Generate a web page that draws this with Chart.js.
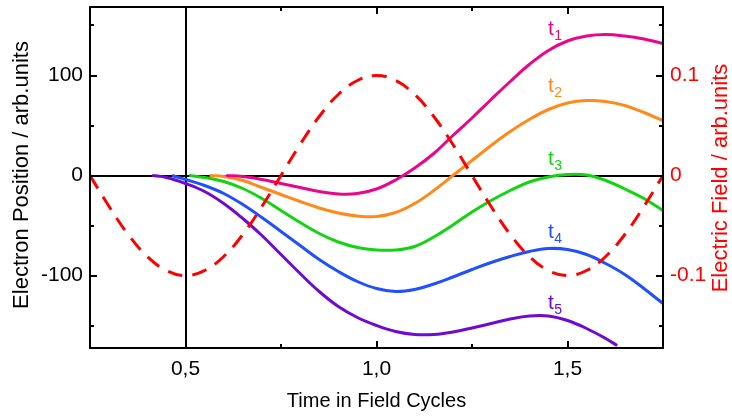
<!DOCTYPE html>
<html>
<head>
<meta charset="utf-8">
<script src="https://cdn.jsdelivr.net/npm/chart.js@4/dist/chart.umd.min.js"></script>
<style>
html,body{margin:0;padding:0;background:#fff;}
#c{display:block;}
</style>
</head>
<body>
<canvas id="c" width="732" height="417"></canvas>
<script>
// ---- data ----
const fieldX = [0.25,0.30,0.35,0.40,0.45,0.50,0.55,0.60,0.65,0.70,0.75,0.80,0.85,0.90,0.95,1.00,1.05,1.10,1.15,1.20,1.25,1.30,1.35,1.40,1.45,1.50,1.55,1.60,1.65,1.70,1.75];
const fieldY = [0,-0.031,-0.059,-0.081,-0.095,-0.100,-0.095,-0.081,-0.059,-0.031,0,0.031,0.059,0.081,0.095,0.100,0.095,0.081,0.059,0.031,0,-0.031,-0.059,-0.081,-0.095,-0.100,-0.095,-0.081,-0.059,-0.031,0];

const t1X = [0.607,0.65,0.70,0.75,0.80,0.85,0.90,0.95,1.00,1.05,1.10,1.15,1.20,1.25,1.30,1.35,1.40,1.45,1.50,1.55,1.60,1.65,1.70,1.75];
const t1Y = [0,-1,-4,-8,-12,-16,-18.5,-18,-13.5,-4.5,7.5,22,40,57.5,76,94,111,125,134.5,139.5,141,139.5,136.5,132];

const t2X = [0.563,0.60,0.65,0.70,0.75,0.80,0.85,0.90,0.95,1.00,1.05,1.10,1.15,1.20,1.25,1.30,1.35,1.40,1.45,1.50,1.55,1.60,1.65,1.70,1.75];
const t2Y = [0,-1,-5,-12,-19,-26,-32.5,-37.5,-40.5,-41,-37,-28,-15,0,15,30,44,56,66,72.5,75,74,70,63,55];

const t3X = [0.51,0.55,0.60,0.65,0.70,0.75,0.80,0.85,0.90,0.95,1.00,1.05,1.10,1.15,1.20,1.25,1.30,1.35,1.40,1.45,1.50,1.55,1.60,1.65,1.70,1.75];
const t3Y = [0,-2,-6,-13,-23,-35,-47,-58,-66.5,-72,-74.5,-74.5,-71,-61.5,-49.5,-36.5,-25,-15,-6.5,-1.5,1,0.5,-5,-13.5,-23,-35];

const t4X = [0.465,0.50,0.55,0.60,0.65,0.70,0.75,0.80,0.85,0.90,0.95,1.00,1.05,1.10,1.15,1.20,1.25,1.30,1.35,1.40,1.45,1.50,1.55,1.60,1.65,1.70,1.75];
const t4Y = [0,-4,-10,-18,-29,-42,-56,-70,-84,-96,-106,-113,-116,-114,-108.5,-101.5,-94,-87,-81,-76,-73,-74,-79,-88,-99,-113,-128];

const t5X = [0.413,0.45,0.50,0.55,0.60,0.65,0.70,0.75,0.80,0.85,0.90,0.95,1.00,1.05,1.10,1.15,1.20,1.25,1.30,1.35,1.40,1.45,1.50,1.55,1.60,1.63];
const t5Y = [0,-2,-8,-16,-28,-43,-60,-79,-98,-116,-131,-142,-150,-156,-159,-159,-156.5,-152.5,-148,-143.5,-140.5,-140.5,-145,-153,-163,-170];

const curveNames = ['1','2','3','4','5'];
const xTickValues = [0.5,0.75,1.0,1.25,1.5];
const xTickLabels = {0.5:'0,5',1:'1,0',1.5:'1,5'};
const yTickValues = [-150,-100,-50,0,50,100,150];
const yTickLabels = {'-100':'-100','0':'0','100':'100'};
const y1TickValues = [-0.15,-0.1,-0.05,0,0.05,0.1,0.15];
const y1TickLabels = {'-0.1':'-0.1','0':'0','0.1':'0.1'};

// ---- styling ----
const FONT = '"Liberation Sans", Arial, sans-serif';
const colors = ['#e8068c','#ff8a1a','#12d412','#2050ff','#6f0ad2'];
const fieldColor = '#ff0000';

function pts(xs, ys){ return xs.map((x,i)=>({x:x, y:ys[i]})); }

const curves = [[t1X,t1Y],[t2X,t2Y],[t3X,t3Y],[t4X,t4Y],[t5X,t5Y]];
const datasets = [{
  label:'field', data: pts(fieldX, fieldY), yAxisID:'y1',
  borderColor: fieldColor, borderWidth: 3, borderDash:[15,10],
  pointRadius:0, tension:0.4, order:0, fill:false
}];
curves.forEach((c,i)=>{
  datasets.push({
    label:'t'+curveNames[i], data: pts(c[0], c[1]), yAxisID:'y',
    borderColor: colors[i], borderWidth: 3, pointRadius:0,
    tension:0.4, order:1, fill:false
  });
});

// label anchors (data coords) for t-labels
const labelPos = {x:1.449, y:[140.5, 83.5, 10.5, -62.5, -133.5]};

function noPad(s){ s.paddingTop = 0; s.paddingBottom = 0; s.paddingLeft = 0; s.paddingRight = 0; }

const decor = {
  id:'decor',
  beforeDatasetsDraw(chart){
    const {ctx, chartArea:a, scales} = chart;
    ctx.save();
    ctx.strokeStyle = '#000'; ctx.lineWidth = 2;
    const y0 = Math.round(scales.y.getPixelForValue(0));
    const x05 = Math.round(scales.x.getPixelForValue(0.5));
    ctx.beginPath();
    ctx.moveTo(a.left, y0); ctx.lineTo(a.right, y0);
    ctx.moveTo(x05, a.top); ctx.lineTo(x05, a.bottom);
    ctx.stroke();
    ctx.restore();
  },
  afterDatasetsDraw(chart){
    const {ctx, chartArea:a, scales} = chart;
    ctx.save();
    ctx.strokeStyle = '#000'; ctx.lineWidth = 2;
    ctx.strokeRect(a.left, a.top, a.right-a.left, a.bottom-a.top);
    ctx.beginPath();
    xTickValues.forEach(v=>{
      const px = Math.round(scales.x.getPixelForValue(v));
      const L = xTickLabels[v] ? 7 : 4;
      ctx.moveTo(px, a.bottom); ctx.lineTo(px, a.bottom-L);
      ctx.moveTo(px, a.top); ctx.lineTo(px, a.top+L);
    });
    yTickValues.forEach(v=>{
      const py = Math.round(scales.y.getPixelForValue(v));
      const L = yTickLabels[String(v)] ? 7 : 4;
      ctx.moveTo(a.left, py); ctx.lineTo(a.left+L, py);
    });
    y1TickValues.forEach(v=>{
      const py = Math.round(scales.y1.getPixelForValue(v));
      const L = y1TickLabels[String(v)] ? 7 : 4;
      ctx.moveTo(a.right, py); ctx.lineTo(a.right-L, py);
    });
    ctx.stroke();

    // t labels
    ctx.textBaseline = 'alphabetic'; ctx.textAlign = 'left';
    curveNames.forEach((n,i)=>{
      const px = scales.x.getPixelForValue(labelPos.x);
      const py = scales.y.getPixelForValue(labelPos.y[i]);
      ctx.fillStyle = colors[i];
      ctx.font = '21px ' + FONT;
      ctx.fillText('t', px, py);
      const w = ctx.measureText('t').width;
      ctx.font = '14px ' + FONT;
      ctx.fillText(n, px + w + 0.5, py + 5);
    });

    // axis titles
    ctx.fillStyle = '#000';
    ctx.font = '20px ' + FONT;
    ctx.textAlign = 'center'; ctx.textBaseline = 'middle';
    ctx.fillText('Time in Field Cycles', (a.left+a.right)/2, 401);
    ctx.font = '22px ' + FONT;
    ctx.save();
    ctx.translate(22, 175);
    ctx.rotate(-Math.PI/2);
    ctx.fillText('Electron Position / arb.units', 0, 0);
    ctx.restore();
    ctx.save();
    ctx.fillStyle = fieldColor;
    ctx.translate(721, 178);
    ctx.rotate(-Math.PI/2);
    ctx.fillText('Electric Field / arb.units', 0, 0);
    ctx.restore();
    ctx.restore();
  }
};

new Chart(document.getElementById('c'), {
  type:'line',
  data:{datasets},
  options:{
    responsive:false, animation:false, devicePixelRatio:1,
    layout:{padding:{top:7, left:0, right:0, bottom:0}},
    plugins:{legend:{display:false}, tooltip:{enabled:false}},
    scales:{
      x:{
        type:'linear', position:'bottom', min:0.25, max:1.75,
        grid:{display:false, drawTicks:false}, border:{display:false},
        afterBuildTicks(s){ s.ticks = xTickValues.map(v=>({value:v})); },
        afterFit(s){ s.height = 69; noPad(s); },
        ticks:{ padding:9, color:'#000', font:{family:FONT, size:21},
          maxRotation:0, autoSkip:false,
          callback:(v)=> xTickLabels[v] || '' }
      },
      y:{
        type:'linear', position:'left', min:-172.5, max:168.5,
        grid:{display:false, drawTicks:false}, border:{display:false},
        afterBuildTicks(s){ s.ticks = yTickValues.map(v=>({value:v})); },
        afterFit(s){ s.width = 90; noPad(s); },
        ticks:{ padding:7, color:'#000', font:{family:FONT, size:21}, autoSkip:false,
          callback:(v)=> yTickLabels[String(v)] || '' }
      },
      y1:{
        type:'linear', position:'right', min:-0.1725, max:0.1685,
        grid:{display:false, drawTicks:false}, border:{display:false},
        afterBuildTicks(s){ s.ticks = y1TickValues.map(v=>({value:v})); },
        afterFit(s){ s.width = 69; noPad(s); },
        ticks:{ padding:7, color:fieldColor, font:{family:FONT, size:21}, autoSkip:false,
          callback:(v)=> y1TickLabels[String(v)] || '' }
      }
    }
  },
  plugins:[decor]
});
</script>
</body>
</html>
